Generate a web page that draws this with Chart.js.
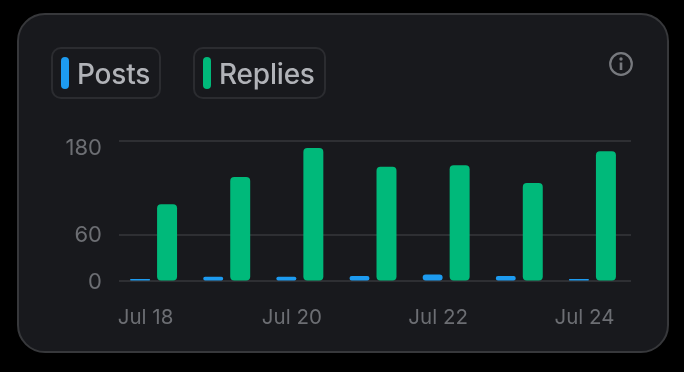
<!DOCTYPE html>
<html>
<head>
<meta charset="utf-8">
<script src="https://cdn.jsdelivr.net/npm/chart.js@4"></script>
<style>
  html, body { margin: 0; padding: 0; background: #000; }
  body { width: 684px; height: 372px; position: relative; overflow: hidden; font-family: Inter, sans-serif; }
  #card { position: absolute; left: 17px; top: 13px; width: 648px; height: 336px; background: #18191d; border: 2px solid #37383b; border-radius: 28px; }
  #chart { position: absolute; left: 0; top: 0; }
  .legend-item { position: absolute; top: 47px; height: 48px; border: 2px solid #2b2c30; border-radius: 10px; box-sizing: content-box; color: #b1b3b8; font-size: 28px; font-weight: 500; letter-spacing: -0.2px; line-height: 50px; }
  .legend-item i { position: absolute; left: 8px; top: 8px; width: 8px; height: 32px; border-radius: 4px; }
  .legend-item span { position: absolute; left: 24px; top: 0; }
  #info { position: absolute; left: 608px; top: 51px; }
</style>
</head>
<body>
<div id="card"></div>
<canvas id="chart" width="684" height="372"></canvas>
<div id="legend"></div>
<svg id="info" width="26" height="26" viewBox="0 0 26 26">
  <circle cx="13" cy="13" r="10.8" fill="none" stroke="#77797e" stroke-width="2.2"/>
  <rect x="11.7" y="11.5" width="2.6" height="7.5" fill="#77797e"/>
  <circle cx="13" cy="8" r="1.7" fill="#77797e"/>
</svg>
<script>
const categories = ['Jul 18', 'Jul 19', 'Jul 20', 'Jul 21', 'Jul 22', 'Jul 23', 'Jul 24'];
const posts = [3, 6, 6, 7, 9, 7, 3];
const replies = [99, 134, 171, 147, 149, 126, 167];
const yTicks = [0, 60, 180];
const xTickEvery = 2;

const seriesNames = ['Posts', 'Replies'];
const seriesColors = ['#1d9bf0', '#00b97a'];
const legendLefts = [51, 193];
const legendWidths = [106, 129];

const tickColor = '#6c6e73';
const xTickFont = { family: 'Inter', size: 20.5 };
const yTickFont = { family: 'Inter', size: 22 };

// html legend, the pills have a box round them
const legend = document.getElementById('legend');
seriesNames.forEach((name, i) => {
  legend.innerHTML += `<div class="legend-item" style="left:${legendLefts[i]}px;width:${legendWidths[i]}px">
    <i style="background:${seriesColors[i]}"></i><span>${name}</span></div>`;
});

// the bars sit 2px left of the grid lines in the reference
const shiftBars = {
  id: 'shiftBars',
  afterLayout(chart) {
    const x = chart.scales.x;
    x.left -= 2;
    x.right -= 2;
    x.configure();
  }
};

// y labels by hand because the top one hangs below its line
const yLabels = {
  id: 'yLabels',
  afterDraw(chart) {
    const y = chart.scales.y;
    const ctx = chart.ctx;
    ctx.save();
    ctx.font = `${yTickFont.size}px ${yTickFont.family}`;
    ctx.fillStyle = tickColor;
    ctx.textAlign = 'right';
    ctx.textBaseline = 'middle';
    yTicks.forEach(v => {
      const top = v === yTicks[yTicks.length - 1];
      ctx.fillText(String(v), 102, y.getPixelForValue(v) + (top ? 7 : 1));
    });
    ctx.restore();
  }
};

new Chart(document.getElementById('chart'), {
  type: 'bar',
  data: {
    labels: categories,
    datasets: [
      { label: seriesNames[0], data: posts, backgroundColor: seriesColors[0], borderRadius: 4, borderSkipped: false },
      { label: seriesNames[1], data: replies, backgroundColor: seriesColors[1], borderRadius: 4, borderSkipped: false }
    ]
  },
  options: {
    responsive: false,
    animation: false,
    barPercentage: 0.74,
    categoryPercentage: 0.738,
    layout: { padding: { left: 119, right: 53, top: 141, bottom: 26 } },
    plugins: { legend: { display: false }, tooltip: { enabled: false } },
    scales: {
      x: {
        grid: { display: false },
        border: { display: false },
        ticks: {
          autoSkip: false,
          maxRotation: 0,
          padding: 16,
          labelOffset: -8,
          color: tickColor,
          font: xTickFont,
          callback(value, index) {
            return index % xTickEvery === 0 ? categories[index] : '';
          }
        }
      },
      y: {
        min: 0,
        max: 180,
        afterBuildTicks(scale) { scale.ticks = yTicks.map(v => ({ value: v })); },
        afterFit(scale) { scale.width = 0; },
        grid: { color: '#2e2f33', lineWidth: 2, drawTicks: false },
        border: { display: false },
        ticks: { display: false }
      }
    }
  },
  plugins: [shiftBars, yLabels]
});
</script>
</body>
</html>
